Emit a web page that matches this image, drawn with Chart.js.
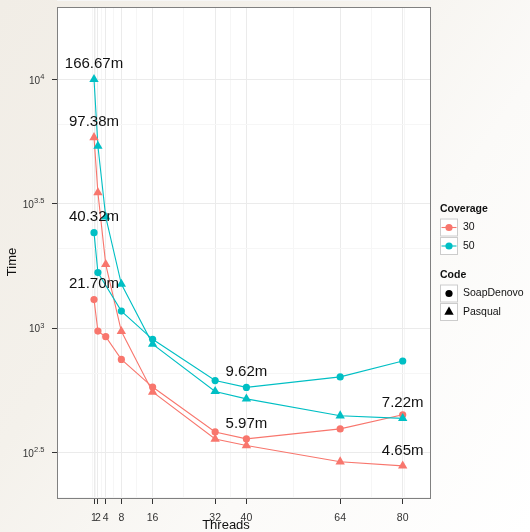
<!DOCTYPE html>
<html>
<head>
<meta charset="utf-8">
<script src="https://cdn.jsdelivr.net/npm/chart.js@4/dist/chart.umd.min.js"></script>
<style>
  html, body { margin: 0; padding: 0; width: 530px; height: 532px; overflow: hidden; }
  body { background: linear-gradient(125deg, #f1ede6 0%, #f4f1eb 35%, #fbfaf8 65%, #ffffff 100%); }
  #wrap { position: relative; width: 530px; height: 532px; }
</style>
</head>
<body>
<div id="wrap"><canvas id="chart" width="530" height="532"></canvas></div>
<script>
// Wall-clock time (seconds) by number of threads
const threads = [1, 2, 4, 8, 16, 32, 40, 64, 80];
const soapDenovo30 = [1302, 972, 923, 748, 579, 382, 358.2, 393, 448];
const soapDenovo50 = [2419.2, 1672, null, 1170, 901, 615, 577.2, 636, 737];
const pasqual30 = [5842.8, 3505, 1803, 970, 553, 358, 337, 290, 279];
const pasqual50 = [10000.2, 5395, 2800, 1502, 862, 556, 519, 444, 433.2];

// Axis breaks
const xTicks = [1, 2, 4, 8, 16, 32, 40, 64, 80];
const yTickExponents = [2.5, 3, 3.5, 4];

// Legend entries
const coverageLevels = ['30', '50'];
const codeNames = ['SoapDenovo', 'Pasqual'];

const RED = '#F8766D';
const TEAL = '#00BFC4';
const FONT = '"Liberation Sans", Arial, Helvetica, sans-serif';

// Minor breaks sit halfway between neighbouring major breaks (one extra step on each side)
function minorBreaks(major) {
  const step = major[1] - major[0];
  const b = [major[0] - step].concat(major, [major[major.length - 1] + step]);
  const out = [];
  for (let i = 0; i < b.length - 1; i++) out.push((b[i] + b[i + 1]) / 2);
  return out;
}
function logMinorBreaks(exps) {
  const step = exps[1] - exps[0];
  const e = [exps[0] - step].concat(exps, [exps[exps.length - 1] + step]);
  const out = [];
  for (let i = 0; i < e.length - 1; i++) out.push((Math.pow(10, e[i]) + Math.pow(10, e[i + 1])) / 2);
  return out;
}
const yMajor = yTickExponents.map(e => Math.pow(10, e));
const xMinor = minorBreaks(xTicks);
const yMinor = logMinorBreaks(yTickExponents);

const series = [
  { name: 'soap30', values: soapDenovo30, color: RED, shape: 'circle' },
  { name: 'pasq30', values: pasqual30, color: RED, shape: 'triangle' },
  { name: 'soap50', values: soapDenovo50, color: TEAL, shape: 'circle' },
  { name: 'pasq50', values: pasqual50, color: TEAL, shape: 'triangle' }
];

function toPoints(values) {
  const pts = [];
  threads.forEach((t, i) => { if (values[i] !== null) pts.push({ x: t, y: values[i] }); });
  return pts;
}

const datasets = [];
// lines first (drawn underneath), then the points
series.forEach((s, i) => {
  datasets.push({
    label: s.name + '-line', data: toPoints(s.values), borderColor: s.color, borderWidth: 1.1,
    pointRadius: 0, showLine: true, tension: 0, fill: false, order: 10 - i
  });
});
series.forEach((s, i) => {
  datasets.push({
    label: s.name, data: toPoints(s.values), showLine: false,
    pointStyle: s.shape, pointRadius: s.shape === 'triangle' ? 5.4 : 3.6,
    pointBackgroundColor: s.color, pointBorderColor: s.color, pointBorderWidth: 0,
    order: 5 - i, seriesIndex: i
  });
});

const isMajorX = v => xTicks.includes(v);
const isMajorY = v => yMajor.some(m => Math.abs(m - v) < 1e-6);

const panelPlugin = {
  id: 'panel',
  beforeDraw(chart) {
    const { ctx, chartArea: a } = chart;
    ctx.save();
    ctx.fillStyle = '#ffffff';
    ctx.fillRect(a.left, a.top, a.right - a.left, a.bottom - a.top);
    ctx.restore();
  },
  afterDatasetsDraw(chart) {
    const { ctx } = chart;
    // minutes labels on the largest and smallest time of each series
    ctx.save();
    ctx.font = '15px ' + FONT;
    ctx.fillStyle = '#111111';
    ctx.textAlign = 'center';
    ctx.textBaseline = 'middle';
    chart.data.datasets.forEach((ds, di) => {
      if (ds.seriesIndex === undefined) return;
      const meta = chart.getDatasetMeta(di);
      const ys = ds.data.map(p => p.y);
      const picks = [ys.indexOf(Math.max(...ys)), ys.indexOf(Math.min(...ys))];
      picks.forEach(k => {
        const el = meta.data[k];
        const txt = (ds.data[k].y / 60).toFixed(2) + 'm';
        ctx.fillText(txt, el.x, el.y - 15.5);
      });
    });
    ctx.restore();
  },
  afterDraw(chart) {
    const { ctx, chartArea: a } = chart;
    const yScale = chart.scales.y;
    ctx.save();
    // panel border
    ctx.strokeStyle = '#808080';
    ctx.lineWidth = 1;
    ctx.strokeRect(Math.round(a.left) + 0.5, Math.round(a.top) + 0.5, Math.round(a.right - a.left) - 1, Math.round(a.bottom - a.top) - 1);

    // y tick labels as powers of ten
    ctx.fillStyle = '#333333';
    ctx.textBaseline = 'middle';
    yTickExponents.forEach(e => {
      const y = yScale.getPixelForValue(Math.pow(10, e));
      const sup = String(e);
      ctx.font = '7.5px ' + FONT;
      const ws = ctx.measureText(sup).width;
      ctx.font = '10px ' + FONT;
      const wb = ctx.measureText('10').width;
      const right = 44.5;
      ctx.textAlign = 'left';
      ctx.fillText('10', right - ws - wb - 0.3, y + 1.5);
      ctx.font = '7.5px ' + FONT;
      ctx.fillText(sup, right - ws, y - 2.5);
    });

    // axis titles
    ctx.fillStyle = '#111111';
    ctx.font = '13px ' + FONT;
    ctx.textAlign = 'center';
    ctx.fillText('Threads', 226, 525);
    ctx.save();
    ctx.translate(12.5, 262);
    ctx.rotate(-Math.PI / 2);
    ctx.fillText('Time', 0, 0);
    ctx.restore();

    // legends
    const lx = 440, kw = 18, tx = 463;
    ctx.textAlign = 'left';
    ctx.font = 'bold 10.5px ' + FONT;
    ctx.fillStyle = '#111111';
    ctx.fillText('Coverage', lx, 209);
    const covColors = [RED, TEAL];
    coverageLevels.forEach((lab, i) => {
      const cy = 227.5 + i * 18.5;
      ctx.fillStyle = '#ffffff';
      ctx.fillRect(lx, cy - 9, kw, 18);
      ctx.strokeStyle = '#cccccc';
      ctx.strokeRect(lx + 0.5, cy - 8.5, kw - 1, 17);
      ctx.strokeStyle = covColors[i];
      ctx.lineWidth = 1.1;
      ctx.beginPath(); ctx.moveTo(lx + 1.5, cy); ctx.lineTo(lx + kw - 1.5, cy); ctx.stroke();
      ctx.lineWidth = 1;
      ctx.fillStyle = covColors[i];
      ctx.beginPath(); ctx.arc(lx + kw / 2, cy, 3.6, 0, Math.PI * 2); ctx.fill();
      ctx.fillStyle = '#111111';
      ctx.font = '10.5px ' + FONT;
      ctx.fillText(lab, tx, cy);
    });
    ctx.font = 'bold 10.5px ' + FONT;
    ctx.fillText('Code', lx, 275);
    codeNames.forEach((lab, i) => {
      const cy = 293.5 + i * 18.5;
      ctx.fillStyle = '#ffffff';
      ctx.fillRect(lx, cy - 9, kw, 18);
      ctx.strokeStyle = '#cccccc';
      ctx.strokeRect(lx + 0.5, cy - 8.5, kw - 1, 17);
      ctx.fillStyle = '#000000';
      const cx = lx + kw / 2;
      if (i === 0) {
        ctx.beginPath(); ctx.arc(cx, cy, 3.6, 0, Math.PI * 2); ctx.fill();
      } else {
        const r = 5.4;
        ctx.beginPath();
        for (let k = 0; k < 3; k++) {
          const ang = k * 2 * Math.PI / 3;
          const px = cx + Math.sin(ang) * r, py = cy - Math.cos(ang) * r;
          if (k === 0) ctx.moveTo(px, py); else ctx.lineTo(px, py);
        }
        ctx.closePath(); ctx.fill();
      }
      ctx.fillStyle = '#111111';
      ctx.font = '10.5px ' + FONT;
      ctx.fillText(lab, tx, cy);
    });
    ctx.restore();
  }
};

new Chart(document.getElementById('chart'), {
  type: 'scatter',
  data: { datasets },
  options: {
    responsive: false,
    animation: false,
    events: [],
    layout: { padding: { top: 6, right: 99, left: 0, bottom: 0 } },
    plugins: { legend: { display: false }, tooltip: { enabled: false } },
    scales: {
      x: {
        type: 'linear',
        min: -8.47,
        max: 87.24,
        afterBuildTicks(scale) {
          scale.ticks = xTicks.concat(xMinor).sort((a, b) => a - b).map(v => ({ value: v }));
        },
        afterFit(scale) { scale.height = 33; },
        ticks: {
          autoSkip: false, maxRotation: 0, minRotation: 0, padding: 8,
          color: '#333333',
          font: { family: FONT, size: 10.5 },
          callback: v => (isMajorX(v) ? String(v) : '')
        },
        grid: {
          color: ctx => (ctx.tick && isMajorX(ctx.tick.value) ? '#ebebeb' : '#f6f6f6'),
          tickColor: ctx => (ctx.tick && isMajorX(ctx.tick.value) ? '#333333' : 'rgba(0,0,0,0)'),
          tickLength: 5,
          lineWidth: 1
        },
        border: { display: false }
      },
      y: {
        type: 'logarithmic',
        min: 205.3,
        max: 19516,
        afterBuildTicks(scale) {
          scale.ticks = yMajor.concat(yMinor).sort((a, b) => a - b).map(v => ({ value: v }));
        },
        afterFit(scale) { scale.width = 57; },
        ticks: { callback: () => '', padding: 0 },
        grid: {
          color: ctx => (ctx.tick && isMajorY(ctx.tick.value) ? '#ebebeb' : '#f6f6f6'),
          tickColor: ctx => (ctx.tick && isMajorY(ctx.tick.value) ? '#333333' : 'rgba(0,0,0,0)'),
          tickLength: 5,
          lineWidth: 1
        },
        border: { display: false }
      }
    }
  },
  plugins: [panelPlugin]
});
</script>
</body>
</html>
